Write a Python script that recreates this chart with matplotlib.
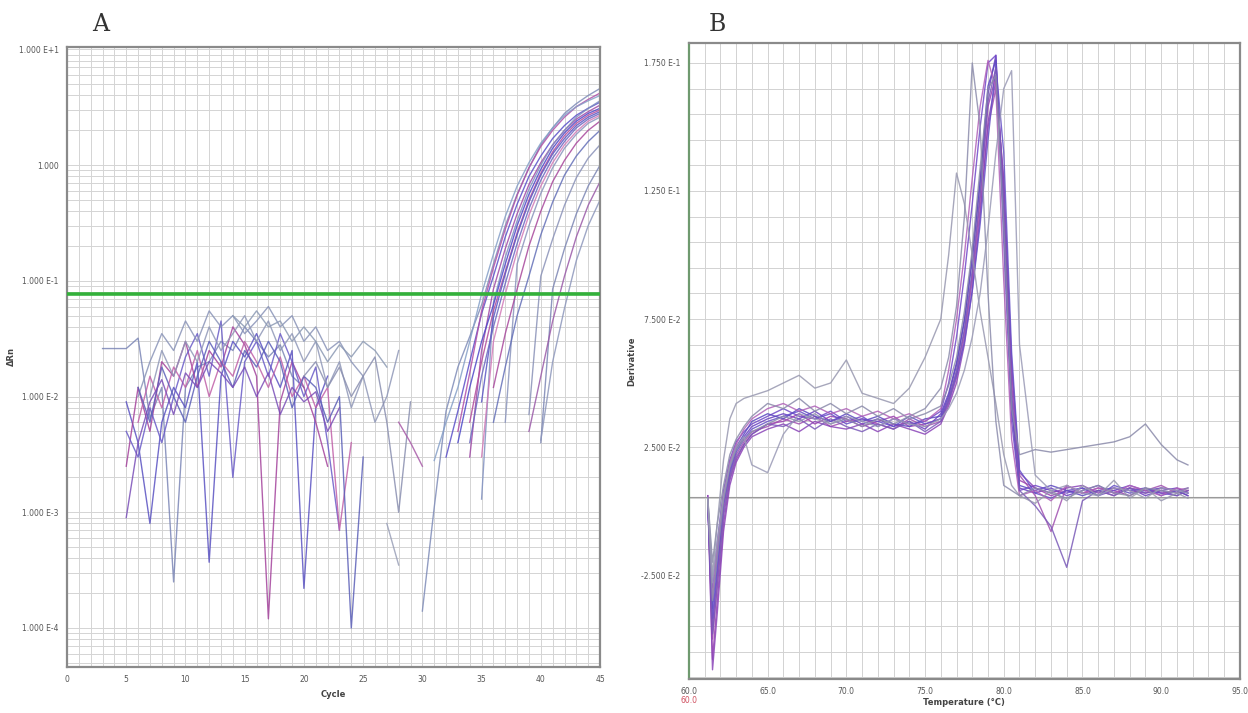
import numpy as np
import matplotlib
matplotlib.use("Agg")
import matplotlib.pyplot as plt
from matplotlib.ticker import FixedLocator, MultipleLocator, LogLocator, NullFormatter

# ---- panel A: amplification plot (delta Rn vs cycle) ----
threshold = 0.077

base_start = [3, 5, 5, 5, 6, 6, 6, 7, 5, 14, 20, 27, 28]
base_vals = [
    [0.026, 0.026, 0.026, 0.032, 0.0065, 0.012, 0.00025, 0.012, 0.018, 0.02, 0.03, 0.025, 0.04, 0.03, 0.022, 0.028, 0.015, 0.012],
    [0.009, 0.004, 0.0008, 0.006, 0.012, 0.008, 0.02, 0.00037, 0.015, 0.03, 0.022, 0.035, 0.02, 0.012, 0.025, 0.00022, 0.008, 0.015],
    [0.0025, 0.012, 0.005, 0.02, 0.015, 0.03, 0.012, 0.025, 0.018, 0.04, 0.028, 0.015, 0.00012, 0.009, 0.02, 0.012, 0.006, 0.0025],
    [0.005, 0.003, 0.008, 0.004, 0.01, 0.022, 0.035, 0.015, 0.045, 0.002, 0.02, 0.03, 0.015, 0.035, 0.02, 0.01, 0.018, 0.004, 0.0007],
    [0.01, 0.02, 0.035, 0.025, 0.045, 0.03, 0.055, 0.04, 0.05, 0.035, 0.045, 0.06, 0.04, 0.05, 0.03, 0.04, 0.025, 0.03, 0.02, 0.015],
    [0.006, 0.015, 0.008, 0.018, 0.012, 0.025, 0.01, 0.02, 0.015, 0.03, 0.02, 0.012, 0.022, 0.01, 0.015, 0.008, 0.012, 0.0007, 0.004],
    [0.012, 0.006, 0.018, 0.01, 0.006, 0.015, 0.03, 0.02, 0.012, 0.025, 0.018, 0.03, 0.02, 0.008, 0.015, 0.012, 0.006, 0.01, 0.0001, 0.003],
    [0.01, 0.025, 0.015, 0.03, 0.02, 0.04, 0.025, 0.035, 0.05, 0.03, 0.045, 0.025, 0.035, 0.02, 0.03, 0.012, 0.02, 0.008, 0.015, 0.006, 0.01, 0.025],
    [0.0009, 0.004, 0.009, 0.014, 0.007, 0.016, 0.012, 0.02, 0.016, 0.012, 0.018, 0.01, 0.016, 0.007, 0.012, 0.009, 0.011, 0.005, 0.008],
    [0.05, 0.04, 0.055, 0.04, 0.045, 0.03, 0.04, 0.03, 0.02, 0.028, 0.022, 0.03, 0.025, 0.018],
    [0.015, 0.02, 0.012, 0.018, 0.01, 0.015, 0.022, 0.006, 0.001, 0.009],
    [0.0008, 0.00035],
    [0.006, 0.004, 0.0025],
]

amp_start = [30, 32, 34, 35, 33, 34, 35, 34, 35, 37, 36, 36, 39, 40, 39, 40, 33, 31]
amp_vals = [
    [0.00014, 0.0011, 0.0075, 0.018, 0.033, 0.062, 0.14, 0.30, 0.56, 0.95, 1.5, 2.1, 2.8, 3.4, 4.0, 4.6],
    [0.0030, 0.0075, 0.020, 0.052, 0.11, 0.24, 0.46, 0.80, 1.2, 1.7, 2.2, 2.7, 3.1, 3.5],
    [0.003, 0.025, 0.085, 0.19, 0.38, 0.68, 1.05, 1.5, 2.0, 2.5, 2.9, 3.3],
    [0.0013, 0.065, 0.16, 0.33, 0.62, 1.0, 1.5, 2.0, 2.6, 3.1, 3.6],
    [0.004, 0.012, 0.030, 0.062, 0.14, 0.30, 0.56, 0.92, 1.4, 1.9, 2.4, 2.8, 3.1],
    [0.006, 0.020, 0.055, 0.12, 0.26, 0.50, 0.85, 1.3, 1.8, 2.3, 2.7, 3.0],
    [0.009, 0.048, 0.115, 0.25, 0.48, 0.82, 1.25, 1.7, 2.2, 2.6, 2.9],
    [0.004, 0.015, 0.040, 0.095, 0.21, 0.42, 0.74, 1.15, 1.6, 2.1, 2.5, 2.8],
    [0.003, 0.030, 0.077, 0.18, 0.37, 0.66, 1.05, 1.5, 1.95, 2.4, 2.7],
    [0.006, 0.14, 0.30, 0.57, 0.95, 1.4, 1.85, 2.3, 2.6],
    [0.012, 0.035, 0.085, 0.20, 0.40, 0.72, 1.1, 1.55, 2.0, 2.4],
    [0.006, 0.018, 0.050, 0.11, 0.25, 0.48, 0.82, 1.2, 1.6, 2.0],
    [0.007, 0.11, 0.23, 0.45, 0.78, 1.15, 1.5],
    [0.004, 0.085, 0.19, 0.38, 0.66, 1.0],
    [0.005, 0.015, 0.045, 0.11, 0.24, 0.45, 0.72],
    [0.0042, 0.02, 0.058, 0.15, 0.30, 0.50],
    [0.005, 0.016, 0.055, 0.13, 0.28, 0.55, 0.95, 1.45, 2.0, 2.6, 3.2, 3.7, 4.2],
    [0.0028, 0.006, 0.012, 0.03, 0.077, 0.17, 0.36, 0.66, 1.05, 1.55, 2.1, 2.7, 3.2, 3.6, 4.0],
]

a_yticks = [1e1, 1e0, 1e-1, 1e-2, 1e-3, 1e-4]
a_ylabels = ["1.000 E+1", "1.000", "1.000 E-1", "1.000 E-2", "1.000 E-3", "1.000 E-4"]
a_xticks = [0, 5, 10, 15, 20, 25, 30, 35, 40, 45]

# ---- panel B: melt curve (derivative vs temperature), derivative in 1e-3 units ----
temps = [61.2, 61.5, 61.8, 62.2, 62.6, 63.0, 63.5, 64, 65, 66, 67, 68, 69, 70, 71, 72, 73, 74, 75, 76,
         76.5, 77, 77.5, 78, 78.5, 79, 79.5, 80, 80.5, 81, 82, 83, 84, 85, 86, 87, 88, 89, 90, 91, 91.7]
melt = [
    [4, -45, -25, 2, 16, 24, 29, 33, 36, 38, 36, 39, 35, 37, 34, 36, 33, 35, 32, 38, 46, 58, 75, 100, 130, 163, 178, 118, 40, 9, 7, 9, 6, 8, 10, 7, 9, 6, 8, 9, 7],
    [6, -58, -35, -5, 12, 20, 26, 30, 34, 35, 38, 34, 37, 36, 33, 35, 37, 33, 34, 36, 44, 54, 70, 92, 122, 158, 170, 125, 50, 12, 9, 6, 8, 7, 9, 8, 6, 9, 7, 8, 6],
    [3, -30, -12, 8, 20, 27, 31, 34, 37, 40, 37, 36, 39, 35, 37, 33, 36, 34, 35, 39, 50, 68, 92, 120, 150, 175, 178, 105, 35, 8, 10, 8, 7, 9, 6, 8, 10, 8, 7, 6, 8],
    [5, -50, -28, 0, 14, 22, 27, 31, 33, 36, 34, 37, 33, 35, 36, 34, 32, 36, 33, 35, 42, 52, 68, 90, 118, 150, 165, 130, 55, 14, 6, -8, 10, 7, 8, 6, 9, 8, 10, 7, 8],
    [2, -38, -18, 5, 18, 25, 30, 35, 38, 36, 40, 37, 35, 38, 35, 37, 34, 33, 36, 37, 45, 57, 74, 98, 128, 166, 176, 115, 42, 10, 8, 10, 8, 6, 8, 9, 7, 8, 9, 8, 6],
    [6, -62, -40, -8, 10, 19, 25, 29, 32, 34, 31, 35, 33, 32, 34, 31, 34, 32, 30, 34, 41, 50, 65, 86, 115, 152, 168, 128, 58, 15, 9, 7, 9, 10, 7, 9, 8, 7, 9, 8, 9],
    [4, -42, -22, 3, 15, 23, 28, 32, 35, 37, 39, 36, 38, 34, 36, 35, 33, 37, 34, 36, 43, 53, 66, 86, 112, 145, 174, 140, 62, 16, 7, 5, 8, 9, 6, 10, 8, 9, 6, 8, 7],
    [5, -34, -15, 6, 19, 26, 32, 36, 40, 42, 39, 41, 38, 40, 37, 39, 36, 38, 35, 40, 55, 75, 100, 130, 158, 176, 165, 90, 28, 6, 8, 4, 10, 7, 9, 7, 10, 8, 6, 9, 8],
    [3, -48, -30, -2, 13, 21, 26, 30, 34, 33, 36, 32, 36, 33, 31, 34, 32, 35, 31, 35, 43, 55, 71, 94, 124, 160, 173, 122, 46, 8, 2, -6, -22, 4, 8, 6, 9, 7, 8, 6, 8],
    [5, -20, -5, 10, 22, 28, 33, 37, 42, 40, 44, 39, 42, 38, 41, 37, 40, 36, 38, 41, 49, 60, 78, 102, 134, 165, 170, 112, 40, 22, 24, 23, 24, 25, 26, 27, 29, 34, 26, 20, 18],
    [5, -25, -5, 20, 36, 42, 44, 45, 47, 50, 53, 48, 50, 59, 46, 44, 42, 48, 60, 75, 100, 132, 120, 100, 78, 60, 42, 22, 10, 6, 3, 8, 4, 10, 6, 12, 5, 9, 4, 7, 5],
    [4, -35, -18, 4, 17, 24, 28, 31, 34, 37, 35, 38, 34, 36, 33, 36, 34, 37, 40, 48, 60, 80, 115, 175, 150, 85, 35, 10, 8, 6, 9, 7, 5, 8, 10, 7, 6, 9, 8, 7, 9],
    [5, -28, -12, 6, 18, 25, 29, 18, 15, 30, 38, 36, 34, 37, 35, 33, 36, 34, 33, 36, 40, 46, 55, 68, 85, 110, 140, 165, 172, 65, 14, 8, 10, 7, 6, 9, 8, 5, 9, 8, 7],
]
melt_baseline = 0.0055

b_yticks = [0.175, 0.125, 0.075, 0.025, -0.025]
b_ylabels = ["1.750 E-1", "1.250 E-1", "7.500 E-2", "2.500 E-2", "-2.500 E-2"]
b_xticks = [60, 65, 70, 75, 80, 85, 90, 95]
b_xlabels = ["60.0", "65.0", "70.0", "75.0", "80.0", "85.0", "90.0", "95.0"]

colors_a = ["#7b86b6", "#5a52c2", "#a4439c", "#6a5cc8", "#8a94b8", "#c060a8", "#5c60b8", "#9098b8",
            "#7a4fb8", "#8c9ab4", "#8a8fb0", "#9aa0b8", "#a85aa8"]
amp_colors = ["#7f8cb8", "#5b50c8", "#a04aa6", "#8090c0", "#4e48c8", "#b24c9c", "#5a56c4", "#6c68c0",
              "#d27ab8", "#8a94bc", "#a8489c", "#6470b8", "#8a92b8", "#7c86b4", "#9a5aa8", "#8e98bc",
              "#b050a8", "#86a0c8"]
melt_colors = ["#6a3fc0", "#9a40b0", "#7048c8", "#a050b0", "#5c48c0", "#8a44b8", "#6650c8", "#b060b8",
               "#7a5ab8", "#8a8aaa", "#9898b0", "#8c8cac", "#9a9ab6"]

fig = plt.figure(figsize=(12.48, 7.13), dpi=100)
fig.patch.set_facecolor("white")

# ---------------- Panel A ----------------
ax = fig.add_axes([0.0537, 0.0645, 0.4271, 0.8696])
ax.set_yscale("log")
ax.set_xlim(0, 45)
ax.set_ylim(4.6e-5, 10.5)
ax.xaxis.set_minor_locator(MultipleLocator(1))
ax.yaxis.set_minor_locator(LogLocator(base=10, subs=np.arange(2, 10)))
ax.yaxis.set_minor_formatter(NullFormatter())
ax.grid(True, which="both", color="#d4d4d4", lw=0.7)
ax.set_axisbelow(True)

for s, vals, c in zip(base_start, base_vals, colors_a):
    cyc = np.arange(s, s + len(vals))
    ax.plot(cyc, vals, color=c, lw=1.0, alpha=0.85)
for s, vals, c in zip(amp_start, amp_vals, amp_colors):
    cyc = np.arange(s, s + len(vals))
    ax.plot(cyc, vals, color=c, lw=1.0, alpha=0.85)
ax.axhline(threshold, color="#33b13a", lw=2.6, zorder=5)

ax.yaxis.set_major_locator(FixedLocator(a_yticks))
ax.set_yticklabels(a_ylabels)
ax.set_xticks(a_xticks)
ax.tick_params(which="both", length=0, labelsize=5.5, labelcolor="#555555", pad=6)
for sp in ax.spines.values():
    sp.set_color("#8a8a8a")
    sp.set_linewidth(1.6)
ax.set_xlabel("Cycle", fontsize=6, fontweight="bold", color="#444444", labelpad=4)
ax.set_ylabel("ΔRn", fontsize=6, fontweight="bold", color="#444444", labelpad=2)
fig.text(0.074, 0.965, "A", fontsize=17, family="DejaVu Serif", color="#333333", va="center")

# ---------------- Panel B ----------------
bx = fig.add_axes([0.552, 0.0477, 0.4415, 0.892])
bx.set_xlim(60, 95)
bx.set_ylim(-0.0656, 0.1828)
bx.xaxis.set_minor_locator(MultipleLocator(1))
bx.yaxis.set_minor_locator(FixedLocator(np.arange(-0.065, 0.18, 0.01)))
bx.grid(True, which="both", color="#d2d2d2", lw=0.7)
bx.set_axisbelow(True)

bx.axhline(melt_baseline, color="#9a9a9a", lw=0.8, zorder=1)
for vals, c in zip(melt, melt_colors):
    bx.plot(temps, np.array(vals) / 1000.0, color=c, lw=1.0, alpha=0.85)

bx.yaxis.set_major_locator(FixedLocator(b_yticks))
bx.set_yticklabels(b_ylabels)
bx.set_xticks(b_xticks)
bx.set_xticklabels(b_xlabels)
bx.tick_params(which="both", length=0, labelsize=5.5, labelcolor="#555555", pad=6)
for sp in bx.spines.values():
    sp.set_color("#8a8a8a")
    sp.set_linewidth(1.6)
bx.spines["left"].set_color("#6f9a6f")
bx.set_xlabel("Temperature (°C)", fontsize=6, fontweight="bold", color="#444444", labelpad=1)
bx.set_ylabel("Derivative", fontsize=6, fontweight="bold", color="#444444", labelpad=4)
fig.text(0.552, 0.018, "60.0", fontsize=5.5, color="#d05060", ha="center", va="center")
fig.text(0.568, 0.965, "B", fontsize=17, family="DejaVu Serif", color="#333333", va="center")

fig.savefig("out.png", dpi=100, facecolor="white")
